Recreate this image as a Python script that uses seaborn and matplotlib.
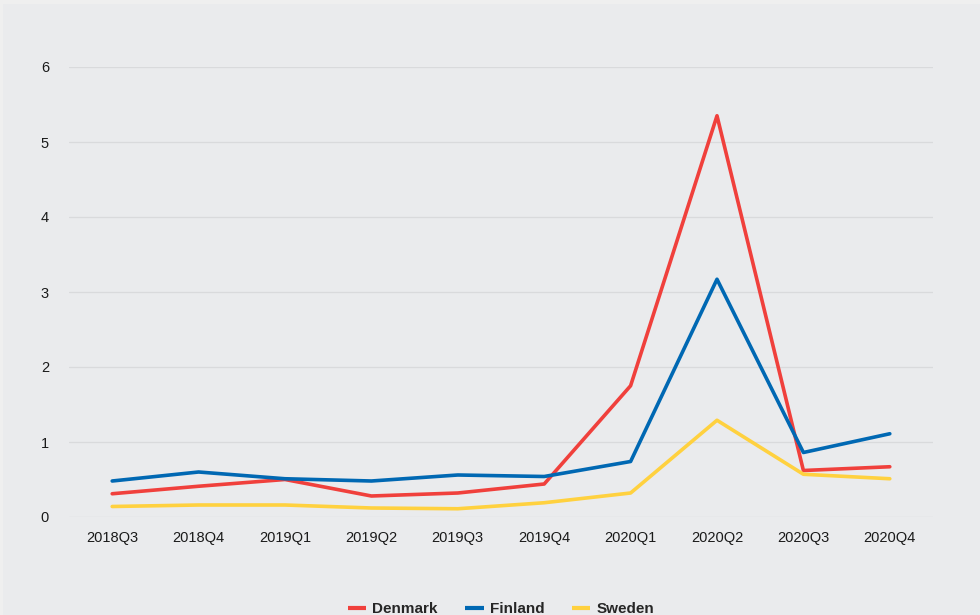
import matplotlib
matplotlib.use("Agg")
import matplotlib.pyplot as plt
import seaborn as sns
import pandas as pd
from matplotlib.patches import Rectangle

quarters = ["2018Q3", "2018Q4", "2019Q1", "2019Q2", "2019Q3",
            "2019Q4", "2020Q1", "2020Q2", "2020Q3", "2020Q4"]
denmark = [0.31, 0.41, 0.50, 0.28, 0.32, 0.44, 1.75, 5.35, 0.62, 0.67]
finland = [0.48, 0.60, 0.51, 0.48, 0.56, 0.54, 0.74, 3.17, 0.86, 1.11]
sweden = [0.14, 0.16, 0.16, 0.12, 0.11, 0.19, 0.32, 1.29, 0.57, 0.51]
countries = ["Denmark", "Finland", "Sweden"]
colors = ["#F0403C", "#0068B3", "#FFD13F"]
y_ticks = [0, 1, 2, 3, 4, 5, 6]

df = pd.DataFrame({
    "quarter": quarters * 3,
    "pos": list(range(len(quarters))) * 3,
    "value": denmark + finland + sweden,
    "country": sum([[c] * len(quarters) for c in countries], []),
})

sns.set_theme(style="white")
plt.rcParams["font.family"] = ["Liberation Sans", "DejaVu Sans"]

bg = "#EAEBED"
fig = plt.figure(figsize=(9.8, 6.15), dpi=100)
fig.patch.set_facecolor("#EFEFEF")
fig.patches.append(Rectangle((3 / 980, 0), 1, 1 - 4 / 615, transform=fig.transFigure,
                             facecolor=bg, edgecolor="none", zorder=-5))

ax = fig.add_axes([69 / 980, 1 - 517 / 615, (933 - 69) / 980, 450 / 615])
ax.set_facecolor(bg)

sns.lineplot(data=df, x="pos", y="value", hue="country", hue_order=countries,
             palette=colors, linewidth=2.6, ax=ax, legend=True)

ax.set_xlim(-0.5, len(quarters) - 0.5)
ax.set_ylim(0, 6)
ax.set_xticks(range(len(quarters)))
ax.set_xticklabels(quarters)
ax.set_yticks(y_ticks)
ax.set_yticklabels([str(t) for t in y_ticks])
ax.set_xlabel("")
ax.set_ylabel("")
ax.tick_params(axis="x", length=0, pad=10, labelsize=10.5, labelcolor="#1a1a1a")
ax.tick_params(axis="y", length=0, labelsize=10.5, labelcolor="#1a1a1a")
for lbl in ax.get_yticklabels():
    lbl.set_horizontalalignment("center")
ax.yaxis.set_tick_params(pad=17.3)

ax.grid(axis="y", color="#D9DADC", linewidth=0.9)
ax.set_axisbelow(True)
for s in ax.spines.values():
    s.set_visible(False)

handles, labels = ax.get_legend_handles_labels()
ax.legend_.remove()
leg = fig.legend(handles, labels, loc="center",
                 bbox_to_anchor=(0.5 + 11 / 980, 1 - 609 / 615),
                 ncol=3, frameon=False, handlelength=1.2, handletextpad=0.4,
                 columnspacing=1.8, prop={"weight": "bold", "size": 11})
for line in leg.get_lines():
    line.set_linewidth(3)
    line.set_solid_capstyle("butt")

fig.savefig("out.png", dpi=100, facecolor=fig.get_facecolor())
